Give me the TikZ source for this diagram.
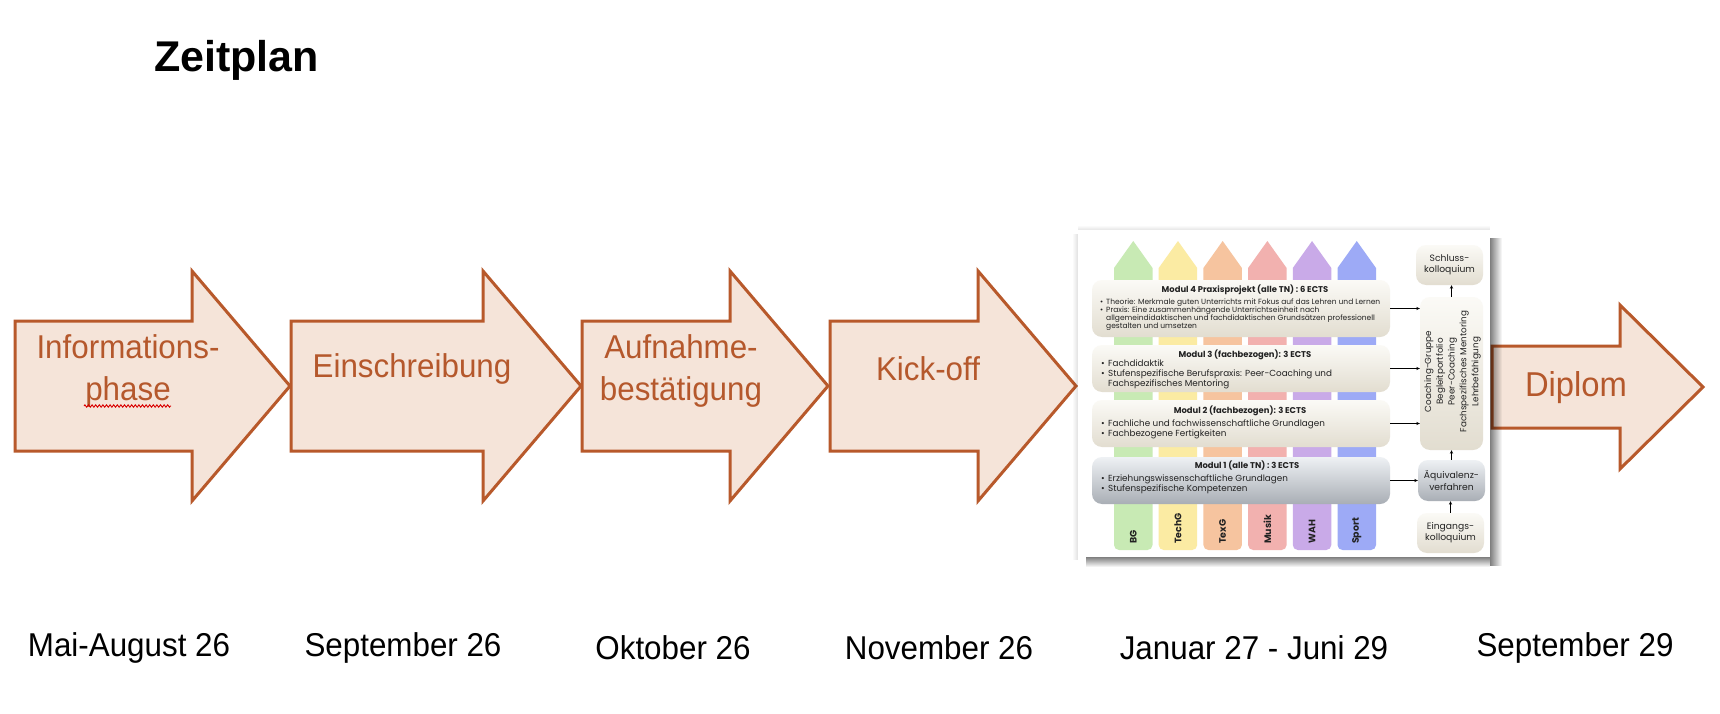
\documentclass[tikz,border=0pt]{standalone}
\usepackage{fontspec}
\setmainfont{Liberation Sans}
\newfontfamily\popfont{Poppins}
\newfontfamily\datefont{Liberation Sans}[FakeStretch=0.95]
\newfontfamily\arrfont{Liberation Sans}[FakeStretch=0.95]
\usetikzlibrary{arrows.meta,decorations.pathmorphing,fadings}
\definecolor{arrline}{HTML}{B8592B}
\definecolor{arrfill}{HTML}{F5E4D9}
\definecolor{arrtext}{HTML}{B5582C}
\definecolor{cBG}{HTML}{C8EAB4}
\definecolor{cTechG}{HTML}{FBEBA3}
\definecolor{cTexG}{HTML}{F6C49F}
\definecolor{cMusik}{HTML}{F2B1AF}
\definecolor{cWAH}{HTML}{C9AAE8}
\definecolor{cSport}{HTML}{9DAAF6}
\definecolor{beigeT}{HTML}{FBFAF6}
\definecolor{beigeB}{HTML}{E2DDD0}
\definecolor{grayT}{HTML}{EEF1F4}
\definecolor{grayB}{HTML}{A9AEB5}
\definecolor{ink}{HTML}{222222}
\newcommand\bul[2]{\makebox[#1][l]{\textbullet}#2}
\newcommand\cont[2]{\hspace*{#1}#2}
\begin{document}
\begin{tikzpicture}[x=1pt,y=-1pt,
  bigarr/.style={draw=arrline,fill=arrfill,line width=3pt,line join=miter},
  arrtxt/.style={text=arrtext,font=\arrfont\fontsize{33}{42}\selectfont,align=center,inner sep=0pt},
  datetxt/.style={font=\datefont\fontsize{33}{38}\selectfont,inner sep=0pt},
  modbox/.style={rounded corners=10pt,top color=beigeT,bottom color=beigeB,minimum width=298pt,inner sep=0pt},
  graybox/.style={top color=grayT,bottom color=grayB},
  modtitle/.style={anchor=base,inner sep=0pt,text=ink,font=\popfont\bfseries\fontsize{8.4}{10}\selectfont},
  bulsmall/.style={anchor=base west,inner sep=0pt,text=ink,font=\popfont\fontsize{7.5}{8}\selectfont},
  bulbig/.style={anchor=base west,inner sep=0pt,text=ink,font=\popfont\fontsize{8.8}{10}\selectfont},
  rbox/.style={rounded corners=10pt,top color=beigeT,bottom color=beigeB,minimum width=67pt,inner sep=0pt,align=center,text=ink,font=\popfont\fontsize{9.2}{11.2}\selectfont},
  collabel/.style={rotate=90,anchor=west,inner sep=0pt,text=ink,font=\popfont\bfseries\fontsize{9.4}{10}\selectfont},
  link/.style={draw=black,line width=0.8pt,-{Stealth[length=3.5pt,width=3.2pt]}}
]
\useasboundingbox (0,0) rectangle (1720,714);
\fill[white] (0,0) rectangle (1720,714);

% title
\node[anchor=west,inner sep=0pt,font=\bfseries\fontsize{43}{50}\selectfont] (title) at (154,60) {Zeitplan};

% big arrows
\path[bigarr] (15,321) -- (192,321) -- (192,271) -- (290,386) -- (192,501) -- (192,451) -- (15,451) -- cycle;
\path[bigarr] (291,321) -- (483,321) -- (483,271) -- (581,386) -- (483,501) -- (483,451) -- (291,451) -- cycle;
\path[bigarr] (582,321) -- (730,321) -- (730,271) -- (828,386) -- (730,501) -- (730,451) -- (582,451) -- cycle;
\path[bigarr] (830,321) -- (978,321) -- (978,271) -- (1076,386) -- (978,501) -- (978,451) -- (830,451) -- cycle;
\path[bigarr] (1492,346) -- (1620,346) -- (1620,305) -- (1703,387) -- (1620,469) -- (1620,428) -- (1492,428) -- cycle;

\node[arrtxt] (t1) at (128,371) {Informations-\\phase};
\draw[red!85!black,line width=0.9pt,decorate,decoration={zigzag,segment length=3.6pt,amplitude=1.2pt}] (84,406) -- (171,406);
\node[arrtxt] (t2) at (412,369) {Einschreibung};
\node[arrtxt] (t3) at (681,371) {Aufnahme-\\bestätigung};
\node[arrtxt] (t4) at (928,369) {Kick-off};
\node[arrtxt,font=\arrfont\fontsize{34.5}{44}\selectfont] (t5) at (1576,388) {Diplom};

% dates
\node[datetxt] (d1) at (129,648) {Mai-August 26};
\node[datetxt] (d2) at (403,648) {September 26};
\node[datetxt] (d3) at (673,648) {Oktober 26};
\node[datetxt] (d4) at (939,648) {November 26};
\node[datetxt] (d5) at (1254,648) {Januar 27 - Juni 29};
\node[datetxt] (d6) at (1575,648) {September 29};

% embedded image: shadow and paper
\fill[black,opacity=0.5,path fading=east] (1490,238) rectangle (1502,566);
\fill[black,opacity=0.5,path fading=south] (1086,557) rectangle (1490,567);
\fill[black,opacity=0.12,path fading=west] (1072,234) rectangle (1078,560);
\fill[black,opacity=0.10,path fading=north] (1078,225) rectangle (1490,230);
\fill[white] (1078,230) rectangle (1490,557);

% columns
\foreach \a/\c/\n/\t in {1114/cBG/bg/BG,1158.7/cTechG/techg/TechG,1203.4/cTexG/texg/TexG,1248.1/cMusik/musik/Musik,1292.8/cWAH/wah/WAH,1337.5/cSport/sport/Sport}{
  \fill[\c,rounded corners=5pt] (\a,300) rectangle ({\a+38.5},550);
  \fill[\c] (\a,310) -- (\a,268) -- ({\a+19.25},241) -- ({\a+38.5},268) -- ({\a+38.5},310) -- cycle;
  \node[collabel] (l\n) at ({\a+19.25},544) {\t};
}

% modules
\node[modbox,minimum height=57pt] (m4) at (1241,308.5) {};
\node[modbox,minimum height=47pt] (m3) at (1241,368.5) {};
\node[modbox,minimum height=47pt] (m2) at (1241,423.5) {};
\node[modbox,graybox,minimum height=47pt] (m1) at (1241,480.5) {};

\node[modtitle] (m4h) at (1245,292) {Modul 4 Praxisprojekt (alle TN) : 6 ECTS};
\node[bulsmall] (m4a) at (1100,304) {\bul{6pt}{Theorie: Merkmale guten Unterrichts mit Fokus auf das Lehren und Lernen}};
\node[bulsmall] (m4b) at (1100,312.3) {\bul{6pt}{Praxis: Eine zusammenhängende Unterrichtseinheit nach}};
\node[bulsmall] (m4c) at (1100,320.6) {\cont{6pt}{allgemeindidaktischen und fachdidaktischen Grundsätzen professionell}};
\node[bulsmall] (m4d) at (1100,328.9) {\cont{6pt}{gestalten und umsetzen}};

\node[modtitle] (m3h) at (1245,357) {Modul 3 (fachbezogen): 3 ECTS};
\node[bulbig] (m3a) at (1101,366.6) {\bul{7pt}{Fachdidaktik}};
\node[bulbig] (m3b) at (1101,376.6) {\bul{7pt}{Stufenspezifische Berufspraxis: Peer-Coaching und}};
\node[bulbig] (m3c) at (1101,386.6) {\cont{7pt}{Fachspezifisches Mentoring}};

\node[modtitle] (m2h) at (1240,413) {Modul 2 (fachbezogen): 3 ECTS};
\node[bulbig] (m2a) at (1101,426.6) {\bul{7pt}{Fachliche und fachwissenschaftliche Grundlagen}};
\node[bulbig] (m2b) at (1101,436.6) {\bul{7pt}{Fachbezogene Fertigkeiten}};

\node[modtitle] (m1h) at (1247,468) {Modul 1 (alle TN) : 3 ECTS};
\node[bulbig] (m1a) at (1101,481.6) {\bul{7pt}{Erziehungswissenschaftliche Grundlagen}};
\node[bulbig] (m1b) at (1101,491.6) {\bul{7pt}{Stufenspezifische Kompetenzen}};

% right column
\node[rbox,minimum height=40pt] (schluss) at (1449.5,265) {Schluss-\\kolloquium};
\node[rbox,minimum width=63pt,minimum height=153pt] (tall) at (1451.5,373.5) {};
\node[rotate=90,inner sep=0pt,align=center,text=ink,font=\popfont\fontsize{8.8}{11.8}\selectfont] (talltext) at (1452.5,371.5) {Coaching-Gruppe\\Begleitportfolio\\Peer-Coaching\\Fachspezifisches Mentoring\\Lehrbefähigung};
\node[rbox,graybox,minimum height=41pt] (aequi) at (1451.5,480.5) {Äquivalenz-\\verfahren};
\node[rbox,minimum height=40pt] (eing) at (1450.5,533) {Eingangs-\\kolloquium};

% connectors
\draw[link] (m4.east) -- (m4.east -| tall.west);
\draw[link] (m3.east) -- (m3.east -| tall.west);
\draw[link] (m2.east) -- (m2.east -| tall.west);
\draw[link] (m1.east) -- (m1.east -| aequi.west);
\draw[link] (eing.north) -- (eing.north |- aequi.south);
\draw[link] (aequi.north) -- (aequi.north |- tall.south);
\draw[link] (tall.north) -- (tall.north |- schluss.south);
\end{tikzpicture}
\end{document}
